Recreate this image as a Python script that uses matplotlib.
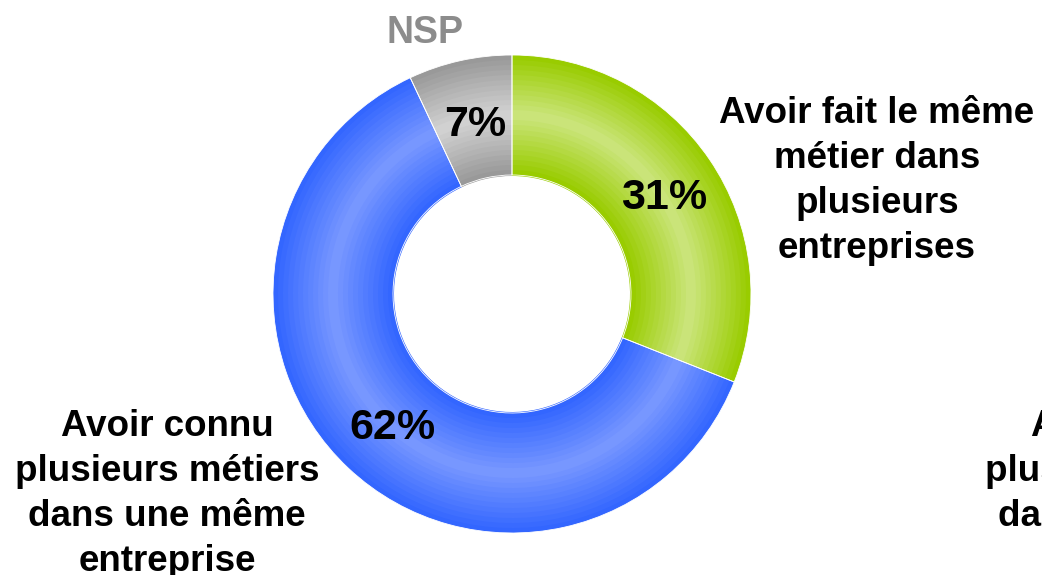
import numpy as np
import matplotlib.pyplot as plt
from matplotlib.colors import to_rgb

# Données
categories = ['Avoir fait le même\nmétier dans\nplusieurs\nentreprises',
              'Avoir connu\nplusieurs métiers\ndans une même\nentreprise',
              'NSP']
valeurs = [31, 62, 7]
etiquettes = ['31%', '62%', '7%']

# couleurs bord / centre de l'anneau (dégradé)
couleurs_bord = ['#99cc00', '#3366ff', '#999999']
couleurs_centre = ['#cce57f', '#7a99ff', '#d4d4d4']

W, H = 1042, 575
fig = plt.figure(figsize=(W / 100, H / 100), dpi=100)
ax = fig.add_axes([0, 0, 1, 1])

cx, cy = 512, H - 294
r_ext, r_int = 239, 119

# anneau en couches concentriques pour imiter le dégradé
n = 24
for i in range(n):
    t = i / (n - 1)
    r = r_ext - (r_ext - r_int) * i / n
    w = (r_ext - r_int) / n + 1
    m = 1 - abs(2 * t - 1)  # 0 aux bords, 1 au milieu
    cols = [tuple(np.array(to_rgb(b)) * (1 - m) + np.array(to_rgb(c)) * m)
            for b, c in zip(couleurs_bord, couleurs_centre)]
    ax.pie(valeurs, colors=cols, startangle=90, counterclock=False,
           center=(cx, cy), radius=r, frame=True,
           wedgeprops=dict(width=w, linewidth=0))

# fines séparations blanches
ax.pie(valeurs, colors=['none'] * 3, startangle=90, counterclock=False,
       center=(cx, cy), radius=r_ext, frame=True,
       wedgeprops=dict(width=r_ext - r_int, edgecolor='white', linewidth=0.6))
ax.set_xlim(0, W)
ax.set_ylim(0, H)
ax.set_aspect('equal')
ax.axis('off')

police = 'Liberation Sans'

# pourcentages
pos_pct = [(664, 198), (392, 428), (475, 125)]
for txt, (x, y) in zip(etiquettes, pos_pct):
    ax.text(x, H - y, txt, ha='center', va='center', fontsize=31,
            fontweight='bold', family=police)

# libellés des catégories
ax.text(877, H - 181, categories[0], ha='center', va='center', fontsize=26.5,
        fontweight='bold', family=police, linespacing=1.36)
ax.text(167, H - 494, categories[1], ha='center', va='center', fontsize=26.5,
        fontweight='bold', family=police, linespacing=1.36)
ax.text(1137, H - 494, categories[1], ha='center', va='center', fontsize=26.5,
        fontweight='bold', family=police, linespacing=1.36)
ax.text(425, H - 33, categories[2], ha='center', va='center', fontsize=27,
        fontweight='bold', family=police, color='#8c8c8c')

fig.savefig('out.png', dpi=100)
